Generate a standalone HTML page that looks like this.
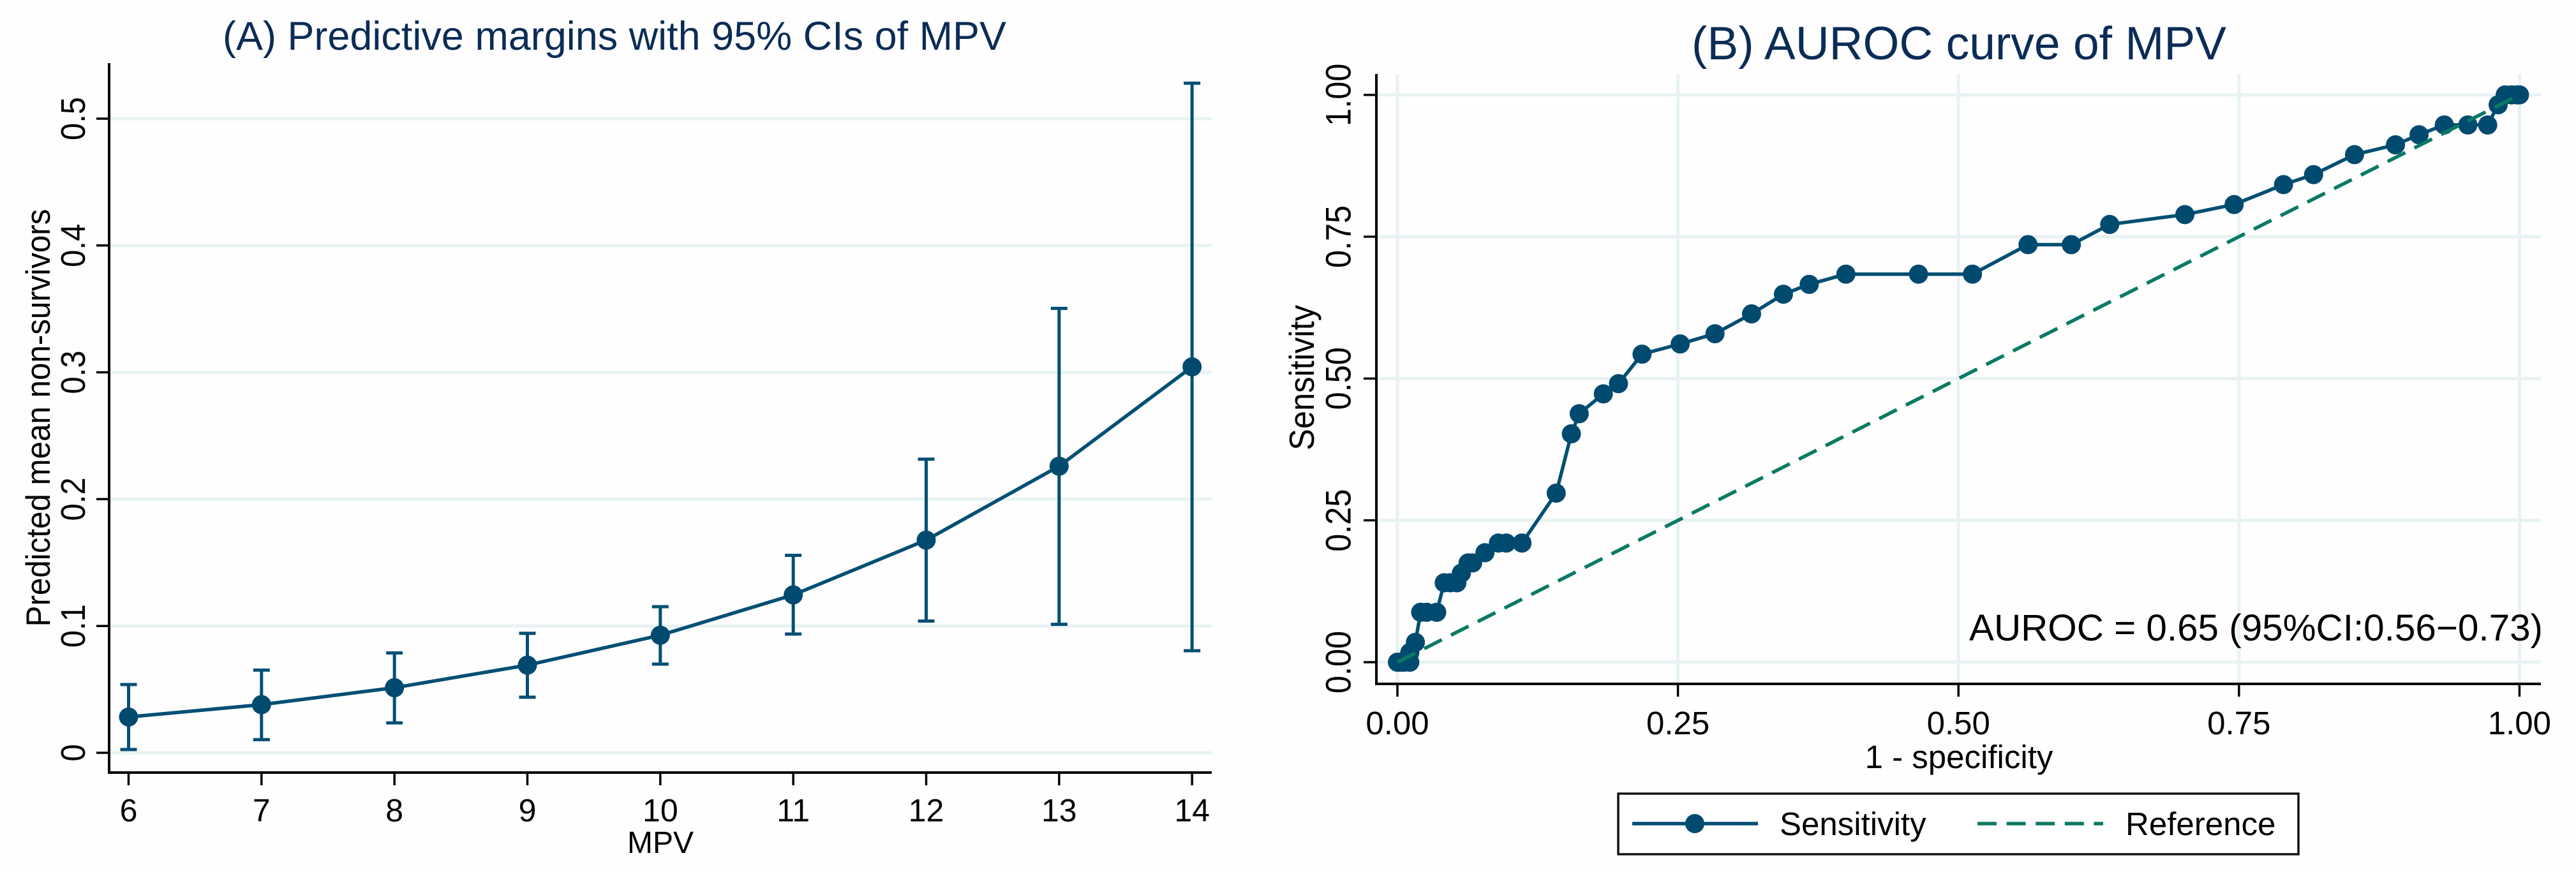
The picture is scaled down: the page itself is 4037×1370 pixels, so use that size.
<!DOCTYPE html>
<html lang="en">
<head>
<meta charset="utf-8">
<title>Predictive margins and AUROC curve of MPV</title>
<style>
html,body{margin:0;padding:0;background:#fff;width:4037px;height:1370px;overflow:hidden}
svg{display:block;font-family:"Liberation Sans",Arial,sans-serif}
</style>
</head>
<body>
<svg id="chart" xmlns="http://www.w3.org/2000/svg" width="4037" height="1370" viewBox="0 0 4037 1370">
  <rect x="0" y="0" width="4037" height="1370" fill="#fefefe"/>
  <rect x="1949" y="0" width="3" height="1370" fill="#fbfdfd"/>
  <text x="963" y="78" font-size="63" fill="#0b2c56" text-anchor="middle" textLength="1228" lengthAdjust="spacingAndGlyphs">(A) Predictive margins with 95% CIs of MPV</text>
  <text x="3070" y="93" font-size="73" fill="#0b2c56" text-anchor="middle" textLength="838" lengthAdjust="spacingAndGlyphs">(B) AUROC curve of MPV</text>
  <text transform="translate(78,655) rotate(-90) scale(1,1.08)" font-size="49.3" fill="#000" text-anchor="middle">Predicted mean non-survivors</text>
  <text x="1035" y="1337" font-size="48" fill="#000" text-anchor="middle">MPV</text>
  <text transform="translate(2059,592) rotate(-90) scale(1,1.08)" font-size="50.6" fill="#000" text-anchor="middle">Sensitivity</text>
  <text x="3070" y="1204" font-size="51" fill="#000" text-anchor="middle">1 - specificity</text>
  <g id="panel-a"></g>
  <g id="panel-b"></g>
  <text x="3086" y="1004" font-size="58.3" fill="#000" textLength="899" lengthAdjust="spacingAndGlyphs">AUROC = 0.65 (95%CI:0.56−0.73)</text>
  <g>
    <rect x="2536" y="1244" width="1066" height="95" fill="#fff" stroke="#111" stroke-width="3.5"/>
    <line x1="2558" y1="1291" x2="2755" y2="1291" stroke="#004f73" stroke-width="5.5"/>
    <circle cx="2656" cy="1291" r="15" fill="#004a70"/>
    <text x="2789" y="1309" font-size="51" fill="#000">Sensitivity</text>
    <line x1="3099" y1="1291" x2="3296" y2="1291" stroke="#0a7a64" stroke-width="5.5" stroke-dasharray="30 15.6"/>
    <text x="3331" y="1309" font-size="51" fill="#000">Reference</text>
  </g>
</svg>
<script>
// Panel A data
const mpvCategories = [6, 7, 8, 9, 10, 11, 12, 13, 14];
const predictedMean = [0.0282, 0.0380, 0.0513, 0.0691, 0.0927, 0.1245, 0.1677, 0.2260, 0.3043];
const ciUpper = [0.0538, 0.0652, 0.0787, 0.0942, 0.1152, 0.1557, 0.2315, 0.3504, 0.5280];
const ciLower = [0.0026, 0.0104, 0.0236, 0.0438, 0.0699, 0.0936, 0.1039, 0.1013, 0.0805];
const marginYTicks = [0, 0.1, 0.2, 0.3, 0.4, 0.5];
const marginYTickLabels = ["0", "0.1", "0.2", "0.3", "0.4", "0.5"];
// Panel B data
const rocFpr = [0, 0.0025, 0.006, 0.011, 0.011, 0.016, 0.0207, 0.026, 0.035, 0.0417, 0.047, 0.053, 0.057, 0.063, 0.067, 0.078, 0.09, 0.097, 0.111, 0.1415, 0.155, 0.162, 0.1835, 0.197, 0.218, 0.252, 0.283, 0.3156, 0.344, 0.367, 0.3997, 0.4644, 0.5125, 0.562, 0.6006, 0.6348, 0.7018, 0.7457, 0.7897, 0.8165, 0.853, 0.8895, 0.9105, 0.933, 0.954, 0.9717, 0.981, 0.9873, 0.993, 0.998, 1];
const rocTpr = [0, 0, 0, 0, 0.017, 0.035, 0.088, 0.088, 0.088, 0.14, 0.14, 0.14, 0.157, 0.175, 0.175, 0.193, 0.21, 0.21, 0.21, 0.298, 0.4026, 0.438, 0.473, 0.491, 0.543, 0.561, 0.579, 0.614, 0.6486, 0.666, 0.684, 0.684, 0.684, 0.736, 0.736, 0.7716, 0.789, 0.8067, 0.8418, 0.8594, 0.8946, 0.912, 0.9297, 0.947, 0.947, 0.947, 0.9825, 1, 1, 1, 1];
const referenceLine = [0, 1];
const rocTicks = [0, 0.25, 0.5, 0.75, 1];
const rocTickLabels = ["0.00", "0.25", "0.50", "0.75", "1.00"];

const NS = "http://www.w3.org/2000/svg";
const LINE = "#004f73", DOT = "#004a70", REF = "#0a7a64", GRID = "#e8f2f3";
const axisAx = v => 201.5 + 208.33 * (v - 6);
const axisAy = v => 1180 - 1988 * v;
const axisBx = v => 2190 + 1758.4 * v;
const axisBy = v => 1038 - 889.3 * v;
const panelA = document.getElementById("panel-a");
const panelB = document.getElementById("panel-b");

function line(parent, x1, y1, x2, y2, color, width) {
  const l = document.createElementNS(NS, "line");
  l.setAttribute("x1", x1);
  l.setAttribute("y1", y1);
  l.setAttribute("x2", x2);
  l.setAttribute("y2", y2);
  l.setAttribute("stroke", color);
  l.setAttribute("stroke-width", width);
  parent.appendChild(l);
  return l;
}
function label(parent, text, size, transform) {
  const t = document.createElementNS(NS, "text");
  t.textContent = text;
  t.setAttribute("font-size", size);
  t.setAttribute("text-anchor", "middle");
  t.setAttribute("fill", "#000");
  t.setAttribute("transform", transform);
  parent.appendChild(t);
  return t;
}
function dot(parent, cx, cy) {
  const c = document.createElementNS(NS, "circle");
  c.setAttribute("cx", cx);
  c.setAttribute("cy", cy);
  c.setAttribute("r", 15);
  c.setAttribute("fill", DOT);
  parent.appendChild(c);
  return c;
}
function path(parent, xs, ys, fx, fy, color, width) {
  const p = document.createElementNS(NS, "path");
  p.setAttribute("d", xs.map((x, i) => (i ? "L" : "M") + fx(x).toFixed(1) + " " + fy(ys[i]).toFixed(1)).join(" "));
  p.setAttribute("fill", "none");
  p.setAttribute("stroke", color);
  p.setAttribute("stroke-width", width);
  p.setAttribute("stroke-linejoin", "round");
  parent.appendChild(p);
  return p;
}

/* Panel A */
marginYTicks.forEach((v, i) => {
  const g = line(panelA, 171, axisAy(v), 1899, axisAy(v), GRID, 5);
  
  
  const k = line(panelA, 151, axisAy(v), 171, axisAy(v), "#000", 3.5);
  
  
  const t = label(panelA, marginYTickLabels[i], 49, "translate(133," + axisAy(v) + ") rotate(-90) scale(1,1.1)");
  
  
});
mpvCategories.forEach(v => {
  const k = line(panelA, axisAx(v), 1211, axisAx(v), 1231, "#000", 3.5);
  
  
  const t = label(panelA, String(v), 50, "translate(" + axisAx(v) + ",1287.5)");
  
  
});
const axisAL = line(panelA, 171, 99, 171, 1213, "#000", 4);


const axisAB = line(panelA, 169, 1211, 1899, 1211, "#000", 4);


mpvCategories.forEach((v, i) => {
  const e = line(panelA, axisAx(v), axisAy(ciUpper[i]), axisAx(v), axisAy(ciLower[i]), LINE, 5);
  
  
  const top = line(panelA, axisAx(v) - 13, axisAy(ciUpper[i]), axisAx(v) + 13, axisAy(ciUpper[i]), LINE, 5);
  
  
  const bot = line(panelA, axisAx(v) - 13, axisAy(ciLower[i]), axisAx(v) + 13, axisAy(ciLower[i]), LINE, 5);
  
  
});
const marginLine = path(panelA, mpvCategories, predictedMean, axisAx, axisAy, LINE, 5.5);


mpvCategories.forEach((v, i) => {
  const d = dot(panelA, axisAx(v), axisAy(predictedMean[i]));
  
  
});

/* Panel B */
rocTicks.forEach((v, i) => {
  const gh = line(panelB, 2157, axisBy(v), 3982, axisBy(v), GRID, 5);
  
  
  const gv = line(panelB, axisBx(v), 116, axisBx(v), 1072, GRID, 5);
  
  
  const ky = line(panelB, 2137, axisBy(v), 2157, axisBy(v), "#000", 3.5);
  
  
  const ty = label(panelB, rocTickLabels[i], 50.5, "translate(2116.5," + axisBy(v) + ") rotate(-90) scale(1,1.1)");
  
  
  const kx = line(panelB, axisBx(v), 1072, axisBx(v), 1092, "#000", 3.5);
  
  
  const tx = label(panelB, rocTickLabels[i], 51, "translate(" + axisBx(v) + ",1151)");
  
  
});
const axisBL = line(panelB, 2157, 116, 2157, 1074, "#000", 4);


const axisBB = line(panelB, 2155, 1072, 3982, 1072, "#000", 4);


const rocLine = path(panelB, rocFpr, rocTpr, axisBx, axisBy, LINE, 5.5);


rocFpr.forEach((v, i) => {
  const d = dot(panelB, axisBx(v), axisBy(rocTpr[i]));
  
  
});
const refLine = path(panelB, referenceLine, referenceLine, axisBx, axisBy, REF, 5.5);
refLine.setAttribute("stroke-dasharray", "31 16");


</script>
</body>
</html>
